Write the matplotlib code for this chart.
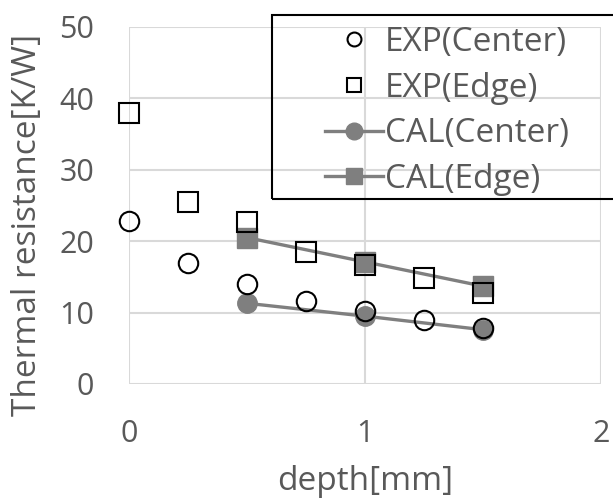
import matplotlib.pyplot as plt
from matplotlib.lines import Line2D
from matplotlib.patches import Rectangle

plt.rcParams["font.family"] = ["Open Sans", "DejaVu Sans"]

depth_exp = [0, 0.25, 0.5, 0.75, 1.0, 1.25, 1.5]
exp_center = [22.8, 16.9, 14.0, 11.6, 10.2, 9.0, 7.8]
exp_edge = [38.0, 25.5, 22.7, 18.5, 16.6, 14.8, 12.7]

depth_cal = [0.5, 1.0, 1.5]
cal_center = [11.3, 9.5, 7.6]
cal_edge = [20.5, 17.1, 13.7]

text_col = "#595959"
gray = "#7f7f7f"
grid_col = "#d9d9d9"

fig = plt.figure(figsize=(6.13, 4.98), dpi=100)
ax = fig.add_axes([0.210, 0.229, 0.770, 0.717])

ax.plot(depth_cal, cal_center, color=gray, lw=2.4, marker="o", ms=14,
        mfc=gray, mec=gray, zorder=3, clip_on=False)
ax.plot(depth_cal, cal_edge, color=gray, lw=2.4, marker="s", ms=14,
        mfc=gray, mec=gray, zorder=3, clip_on=False)
ax.plot(depth_exp, exp_center, linestyle="none", marker="o", ms=14,
        mfc="none", mec="black", mew=1.5, zorder=4, clip_on=False)
ax.plot(depth_exp, exp_edge, linestyle="none", marker="s", ms=14,
        mfc="none", mec="black", mew=1.5, zorder=4, clip_on=False)

ax.set_xlim(0, 2)
ax.set_ylim(0, 50)
ax.set_xticks([0, 1, 2])
ax.set_yticks(range(0, 51, 10))
ax.grid(True, color=grid_col, lw=1.5)
ax.set_axisbelow(True)
for s in ax.spines.values():
    s.set_visible(False)
ax.tick_params(length=0, labelsize=22, colors=text_col)
ax.tick_params(axis="y", pad=25)
ax.tick_params(axis="x", pad=25)
ax.set_xlabel("depth[mm]", fontsize=24, color=text_col, labelpad=12)
ax.set_ylabel("Thermal resistance[K/W]", fontsize=24, color=text_col)
ax.yaxis.set_label_coords(-0.18, 0.445)

# legend frame runs past the right edge of the figure, like the original
fig.patches.append(Rectangle((272 / 613, 1 - 199 / 498), 0.7, 184 / 498,
                             transform=fig.transFigure, fill=False,
                             edgecolor="black", lw=1.5, zorder=5))

handles = [
    Line2D([], [], linestyle="none", marker="o", ms=10, mfc="none", mec="black", mew=1.5),
    Line2D([], [], linestyle="none", marker="s", ms=10, mfc="none", mec="black", mew=1.5),
    Line2D([], [], color=gray, lw=2.4, marker="o", ms=12, mfc=gray, mec=gray),
    Line2D([], [], color=gray, lw=2.4, marker="s", ms=12, mfc=gray, mec=gray),
]
labels = ["EXP(Center)", "EXP(Edge)", "CAL(Center)", "CAL(Edge)"]
leg = fig.legend(handles, labels, loc="upper left", bbox_to_anchor=(325 / 613, 1 - 26 / 498),
                 fontsize=24, frameon=False, handlelength=1.75,
                 handletextpad=0.05, labelspacing=0.38, borderpad=0,
                 borderaxespad=0)
for t in leg.get_texts():
    t.set_color(text_col)

fig.savefig("out.png", dpi=100)
